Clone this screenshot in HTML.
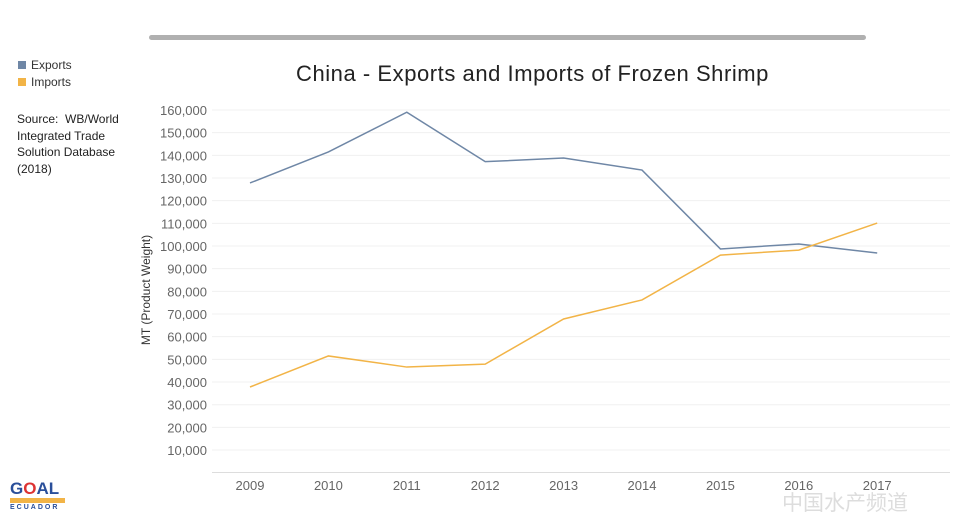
<!DOCTYPE html>
<html><head><meta charset="utf-8"><style>
body{margin:0;width:960px;height:524px;background:#fff;overflow:hidden;font-family:"Liberation Sans","Noto Sans CJK SC",sans-serif;position:relative}
.abs{position:absolute}
</style></head><body>
<div class="abs" style="left:149px;top:35px;width:717px;height:5px;border-radius:3px;background:#b0b0b0"></div>
<div class="abs" style="left:18px;top:57px;font-size:12px;color:#333;line-height:17px">
<div><span style="display:inline-block;width:8px;height:8px;background:#6f87a6;margin-right:5px"></span>Exports</div>
<div><span style="display:inline-block;width:8px;height:8px;background:#f2b447;margin-right:5px"></span>Imports</div>
</div>
<div class="abs" style="left:17px;top:111px;font-size:12px;color:#222;line-height:16.5px;width:120px">Source:&nbsp; WB/World Integrated Trade Solution Database (2018)</div>
<div class="abs" style="left:296px;top:61px;font-size:22px;letter-spacing:0.55px;color:#222;white-space:nowrap">China - Exports and Imports of Frozen Shrimp</div>
<div class="abs" style="left:10px;top:480px;width:55px;font-weight:bold;color:#2a4f9a;font-size:17px;line-height:17px">G<span style="color:#d33">O</span>AL<div style="background:#f2b447;height:5px;margin:1px 0"></div><div style="font-size:7px;letter-spacing:2px;line-height:8px">ECUADOR</div></div>
<div class="abs" style="left:782px;top:487px;font-size:21px;color:#ddd">中国水产频道</div>
<svg class="abs" style="left:0;top:0" width="960" height="524" id="chart"></svg>
<script>
const years=["2009","2010","2011","2012","2013","2014","2015","2016","2017"];
const exportsVals=[127800,141500,159000,137200,138800,133500,98700,100900,96900];
const importsVals=[37800,51500,46600,47900,67800,76200,96000,98200,110100];
const yTicks=[10000,20000,30000,40000,50000,60000,70000,80000,90000,100000,110000,120000,130000,140000,150000,160000];
const ns="http://www.w3.org/2000/svg";
const svg=document.getElementById('chart');
const x=i=>250+i*78.4;
const y=v=>472.7-v*0.002267;
function mk(t,a){const e=document.createElementNS(ns,t);for(const k in a)e.setAttribute(k,a[k]);svg.appendChild(e);return e;}
yTicks.forEach(v=>{
 const g=mk('line',{x1:212,x2:950,y1:y(v),y2:y(v),stroke:'#f0f0f0','stroke-width':1});
 
 
 const t=mk('text',{x:207,y:y(v)+5,'text-anchor':'end','font-size':13,fill:'#666','font-family':'Liberation Sans, sans-serif'});
 t.textContent=v.toLocaleString('en-US');
 
 
});
const ax=mk('line',{x1:212,x2:950,y1:472.5,y2:472.5,stroke:'#ddd'});


years.forEach((yr,i)=>{
 const t=mk('text',{x:x(i),y:490,'text-anchor':'middle','font-size':13,fill:'#666','font-family':'Liberation Sans, sans-serif'});
 t.textContent=yr;
 
 
});
const yt=mk('text',{transform:'translate(150,290) rotate(-90)','text-anchor':'middle','font-size':12,fill:'#333','font-family':'Liberation Sans, sans-serif'});
yt.textContent='MT (Product Weight)';


function line(vals,col,name){
 const p=mk('polyline',{points:vals.map((v,i)=>x(i)+','+y(v)).join(' '),fill:'none',stroke:col,'stroke-width':1.5});
 
 
}
line(exportsVals,'#6f87a6','exports-line');
line(importsVals,'#f2b447','imports-line');
</script>
</body></html>
